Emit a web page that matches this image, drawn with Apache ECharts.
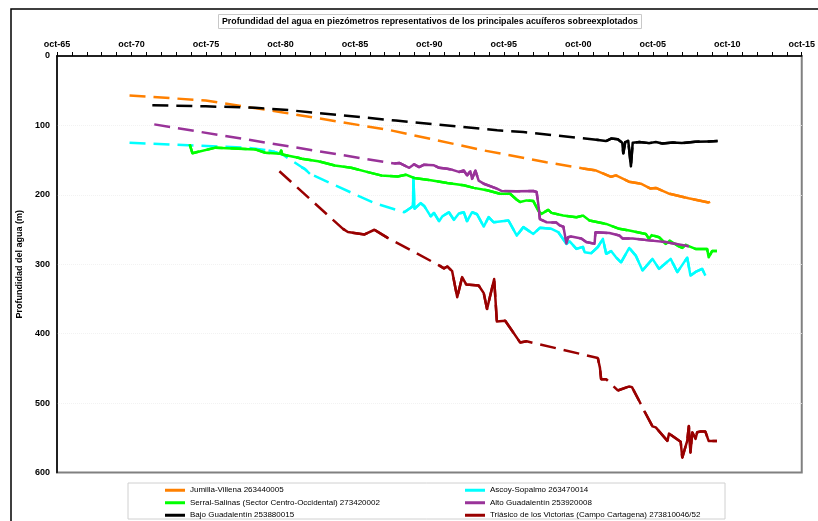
<!DOCTYPE html>
<html>
<head>
<meta charset="utf-8">
<script src="https://cdn.jsdelivr.net/npm/echarts@6/dist/echarts.min.js"></script>
<style>
html,body{margin:0;padding:0;background:#fff;}
#chart{width:818px;height:521px;}
</style>
</head>
<body>
<div id="chart"></div>
<script>
// ---- Tick labels ----
const xTickYears = [1965.75, 1970.75, 1975.75, 1980.75, 1985.75, 1990.75, 1995.75, 2000.75, 2005.75, 2010.75, 2015.75];
const xTickLabels = ['oct-65', 'oct-70', 'oct-75', 'oct-80', 'oct-85', 'oct-90', 'oct-95', 'oct-00', 'oct-05', 'oct-10', 'oct-15'];
const yTickValues = [0, 100, 200, 300, 400, 500, 600];

// ---- Series names ----
const seriesNames = [
  'Jumilla-Villena 263440005',
  'Ascoy-Sopalmo 263470014',
  'Serral-Salinas (Sector Centro-Occidental) 273420002',
  'Alto Guadalentín 253920008',
  'Bajo Guadalentín 253880015',
  'Triásico de los Victorias (Campo Cartagena) 273810046/52'
];
const seriesColors = ['#FF8000', '#00FFFF', '#00FF00', '#993399', '#000000', '#990000'];

// ---- Values: [decimal year, depth m]; *Sparse = points only on dashed stretches; *Dense = measured (solid), null = gap ----
const jumillaSparse = [[1970.62, 57], [1975.73, 64], [1980.82, 81], [1988.15, 107], [1994.4, 136], [1998.6, 153]];
const jumillaDense = [[2001.06, 162], [2001.95, 165], [2002.95, 174], [2003.28, 172], [2004.15, 181], [2004.95, 184],
  [2005.6, 191], [2005.95, 190], [2006.8, 198], [2008.15, 205], [2009.5, 211], [2009.6, 210]];

const ascoySparse = [[1970.62, 125], [1978.5, 132], [1987.06, 212]];
const ascoyDense = [[1979.95, 136], [1980.3, 138], [1980.9, 142], null,
  [1982.17, 160], [1982.4, 163], [1982.73, 169.7], null,
  [1989.06, 225], [1989.5, 218.7], [1989.65, 216], [1989.68, 174.6], [1989.75, 220], [1990.17, 212], [1990.4, 216],
  [1990.84, 231], [1991.06, 226], [1991.4, 238], [1991.62, 231], [1992.06, 225], [1992.4, 236], [1992.73, 227],
  [1993.06, 225], [1993.28, 238], [1993.62, 225], [1993.95, 228], [1994.4, 245.7], [1994.73, 232], [1995.06, 239.5],
  [1995.62, 238], [1996.06, 237], [1996.62, 258.7], [1997.06, 246.5], [1997.73, 256.3], [1998.17, 247.5], [1998.95, 249],
  [1999.4, 253.6], [1999.95, 270.7], [2000.17, 267], [2000.62, 277.9], [2001.06, 275], [2001.17, 282.7], [2001.62, 284],
  [2002.06, 275.2], [2002.4, 263.5], [2002.62, 285], [2002.95, 281], [2003.28, 290], [2003.62, 297.2], [2004.17, 276.5],
  [2004.62, 288], [2005.06, 309], [2005.73, 292.3], [2006.17, 306.6], [2006.95, 292.3], [2007.4, 311.4], [2008.06, 290.5],
  [2008.28, 316.4], [2008.62, 311], [2009.06, 306.6], [2009.28, 316.4]];

const serralSparse = [];
const serralDense = [[1974.66, 127.4], [1974.84, 140], [1976.4, 132], [1979.06, 134.6], [1979.73, 139.4], [1980.73, 140.8],
  [1980.8, 136], [1980.88, 142], [1981.95, 146.6], [1982.17, 148], [1983.28, 151.5], [1984.4, 157.7], [1985.5, 161],
  [1986.62, 167.3], [1987.5, 172], [1988.62, 173.6], [1989.17, 171], [1989.73, 175.8], [1990.84, 179], [1991.95, 183],
  [1993.06, 186.3], [1993.73, 190], [1994.62, 193.5], [1995.5, 198.5], [1996.17, 198.5], [1996.62, 207], [1996.84, 210.4],
  [1997.28, 208], [1997.73, 209], [1998.06, 222.6], [1998.28, 227.4], [1998.73, 221.6], [1998.95, 226], [1999.73, 229.9],
  [2000.62, 232.3], [2001.06, 229.9], [2001.5, 237], [2002.62, 241.9], [2003.5, 249], [2004.17, 251.5], [2005.28, 256.3],
  [2005.5, 263.5], [2005.67, 258], [2006.17, 261], [2006.62, 270.7], [2006.73, 273], [2006.88, 266], [2007.4, 273],
  [2007.73, 276.5], [2007.95, 272], [2008.62, 277.9], [2009.4, 277.9], [2009.5, 290], [2009.73, 281], [2010.06, 281]];

const altoSparse = [[1972.28, 98.5]];
const altoDense = [[1988.4, 155], [1988.73, 154], [1989.4, 161], [1989.73, 156], [1990.06, 160], [1990.4, 156.5],
  [1991.06, 157.5], [1991.4, 161], [1991.95, 162.5], [1992.3, 164], [1992.73, 167], [1992.84, 169.5], [1993.06, 165],
  [1993.28, 172], [1993.5, 166], [1993.62, 177], [1993.84, 165], [1994.06, 179.5], [1994.4, 184], [1995.28, 191],
  [1995.62, 194.5], [1996.6, 195], [1997.73, 194.5], [1997.95, 196], [1998.06, 213], [1998.17, 235], [1998.62, 239.5],
  [1999.28, 240], [1999.5, 244], [1999.75, 246], [1999.95, 270], [2000.06, 261], [2000.28, 260], [2000.95, 263],
  [2001.28, 268], [2001.84, 270.5], [2001.9, 254], [2002.84, 255], [2003.5, 258.5], [2003.73, 263], [2004.4, 263],
  [2005.5, 265.6], [2006.6, 268], [2008.17, 274]];

const bajoSparse = [[1972.15, 71], [1975.73, 72.5], [1979.06, 74.5], [1981.3, 78], [1988.5, 93], [1995.3, 107], [1997.06, 109.5]];
const bajoDense = [[2001.95, 120.5], [2002.6, 122.6], [2002.95, 119], [2003.4, 120], [2003.7, 125], [2003.77, 140.5],
  [2003.9, 124], [2004.1, 122], [2004.28, 159], [2004.4, 125], [2004.85, 124], [2005.5, 125.5], [2005.95, 124],
  [2006.4, 126], [2007.1, 124.5], [2007.7, 125.5], [2008.6, 123.5], [2009.5, 123], [2010.1, 122.5]];

const triasicoSparse = [[1980.68, 166]];
const triasicoDense = [[1984.95, 249], [1985.28, 253.6], [1986.4, 257], [1987.06, 250.3], [1987.95, 262], null,
  [1991.4, 301.6], [1991.73, 306], [1991.95, 303.2], [1992.28, 310], [1992.62, 347.6], [1992.95, 318.5], [1993.22, 329],
  [1994.06, 330.6], [1994.4, 341.6], [1994.62, 364.6], [1995.1, 321.3], [1995.28, 382.3], [1995.84, 381.3],
  [1996.84, 412.6], [1997.28, 411], null,
  [2002.06, 435], [2002.2, 449], [2002.28, 465.5], [2002.62, 465.5], null,
  [2003.4, 481.8], [2004.17, 476], [2004.35, 477], [2004.84, 497], null,
  [2005.17, 511], [2005.73, 533.6], [2005.95, 535], [2006.73, 554.5], [2006.84, 544], [2007.62, 555.6], [2007.73, 578.6],
  [2008.06, 554.5], [2008.17, 532.9], [2008.28, 571.4], [2008.4, 542], [2008.62, 551.5], [2008.73, 542], [2008.95, 541],
  [2009.28, 541], [2009.5, 554.5], [2010.06, 554.5]];

const sparseList = [jumillaSparse, ascoySparse, serralSparse, altoSparse, bajoSparse, triasicoSparse];
const denseList = [jumillaDense, ascoyDense, serralDense, altoDense, bajoDense, triasicoDense];

// ---- build ----
const FONT = 'Liberation Sans, Arial, sans-serif';
const yearTicks = [];
for (let i = 0; i <= 50; i++) yearTicks.push(1965.75 + i);

const solidSeries = [];
const dashedSeries = [];
seriesNames.forEach((name, i) => {
  const solid = denseList[i].map(p => p === null ? ['-', '-'] : p);
  const all = sparseList[i].concat(denseList[i].filter(p => p !== null)).sort((a, b) => a[0] - b[0]);
  solidSeries.push({
    name: name, type: 'line', data: solid, showSymbol: false, symbol: 'none',
    connectNulls: false, z: 3,
    lineStyle: { color: seriesColors[i], width: 2.5, type: 'solid', join: 'round' },
    itemStyle: { color: seriesColors[i] }
  });
  dashedSeries.push({
    name: name, type: 'line', data: all, showSymbol: false, symbol: 'none', z: 2,
    lineStyle: { color: seriesColors[i], width: 2.5, type: [16, 8] },
    itemStyle: { color: seriesColors[i] }
  });
});

const chart = echarts.init(document.getElementById('chart'), null, { renderer: 'canvas' });
chart.setOption({
  animation: false,
  backgroundColor: '#ffffff',
  title: {
    text: 'Profundidad del agua en piezómetros representativos de los principales acuíferos sobreexplotados',
    left: 218, top: 14,
    padding: [3, 4, 3, 4],
    borderColor: '#c8c8c8', borderWidth: 1,
    textStyle: { fontFamily: FONT, fontSize: 8.8, fontWeight: 'bold', color: '#000' }
  },
  graphic: [
    { type: 'rect', shape: { x: 11, y: 9, width: 830, height: 540 }, style: { fill: 'none', stroke: '#000', lineWidth: 1.5 }, silent: true, z: -1 },
    { type: 'rect', shape: { x: 128, y: 483, width: 597, height: 36 }, style: { fill: 'none', stroke: '#d0d0d0', lineWidth: 1 }, silent: true }
  ],
  legend: {
    left: 160, top: 479, width: 620,
    itemWidth: 20, itemHeight: 3, itemGap: 0, icon: 'rect',
    selectedMode: false,
    textStyle: { fontFamily: FONT, fontSize: 8, color: '#000', width: 275, lineHeight: 12.5 },
    data: seriesNames
  },
  grid: {
    left: 57, right: 10, top: 56, bottom: 48.5,
    show: true, borderColor: '#808080', borderWidth: 2, backgroundColor: '#fff'
  },
  xAxis: {
    type: 'value', position: 'top',
    min: 1965.75, max: 2015.75,
    axisLine: { show: true, onZero: false, lineStyle: { color: '#000', width: 1.5 } },
    axisTick: { show: true, customValues: yearTicks, length: 4, lineStyle: { color: '#000', width: 1 } },
    axisLabel: {
      customValues: xTickYears,
      formatter: v => xTickLabels[Math.round((v - 1965.75) / 5)],
      fontFamily: FONT, fontSize: 9, fontWeight: 'bold', color: '#000', margin: 7
    },
    splitLine: { show: false }
  },
  yAxis: {
    type: 'value', inverse: true,
    min: 0, max: 600, interval: 100,
    name: 'Profundidad del agua (m)', nameLocation: 'middle', nameGap: 32, nameRotate: 90,
    nameTextStyle: { fontFamily: FONT, fontSize: 9, fontWeight: 'bold', color: '#000' },
    axisLine: { show: true, onZero: false, lineStyle: { color: '#000', width: 1.5 } },
    axisTick: { show: false },
    axisLabel: {
      customValues: yTickValues,
      fontFamily: FONT, fontSize: 9, fontWeight: 'bold', color: '#000', margin: 7
    },
    splitLine: { show: true, showMinLine: false, showMaxLine: false, lineStyle: { color: '#f2f2f2', width: 1, type: 'dotted' } }
  },
  series: solidSeries.concat(dashedSeries)
});
</script>
</body>
</html>
